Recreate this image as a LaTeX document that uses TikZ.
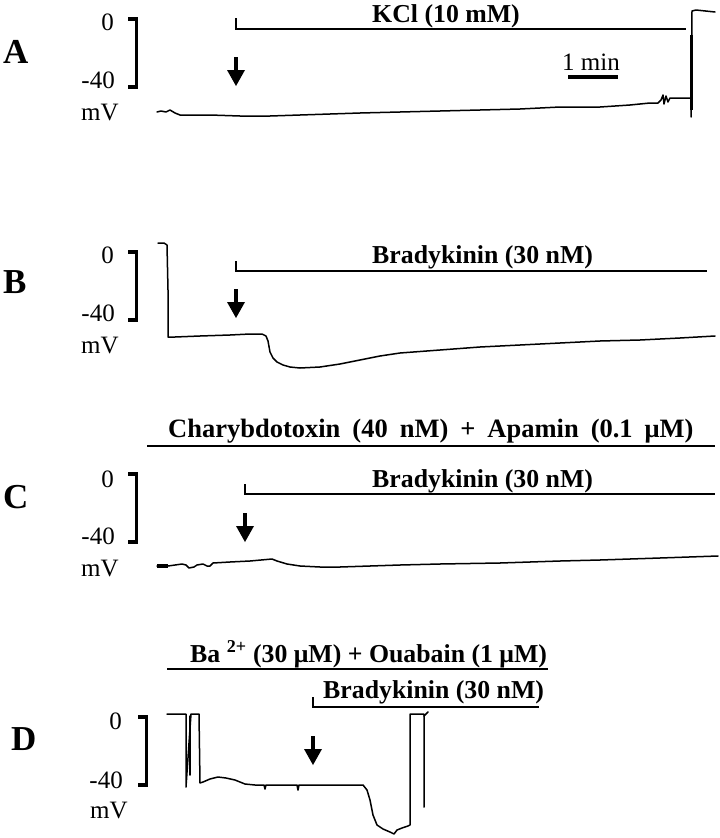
\documentclass[tikz,border=0pt]{standalone}
\usepackage{fontspec}
\setmainfont{Liberation Serif}
\newcommand{\stimarrow}[2]{%
  \draw[line width=3.2pt] (#1,#2-29) -- (#1,#2-12);
  \fill (#1-9,#2-16) -- (#1+9,#2-16) -- (#1,#2) -- cycle;}
\begin{document}
\begin{tikzpicture}[x=1pt,y=-1pt,
  trace/.style={line width=1.5pt, line join=round, line cap=round},
  bar/.style={line width=2.6pt},
  brk/.style={line width=3.8pt, line join=miter},
  lbl/.style={font=\bfseries\fontsize{25.8}{28}\selectfont, inner sep=0pt, anchor=base west},
  num/.style={font=\fontsize{25}{27}\selectfont, inner sep=0pt},
  panel/.style={font=\bfseries\fontsize{35}{38}\selectfont, inner sep=0pt, anchor=base west}]
\useasboundingbox (0,0) rectangle (720,838);

% ---------------- Panel A ----------------
\node[panel] (pA) at (3,63) {A};
\node[num, anchor=base east] (a0) at (114,30) {0};
\node[num, anchor=base east] (a40) at (115,88) {-40};
\node[num, anchor=base west] (amv) at (81,120) {mV};
\draw[brk] (128,19) -- (136.5,19) -- (136.5,87) -- (128,87);
\draw[bar] (236,18) -- (236,29) -- (686,29);
\node[lbl] (kcl) at (372,22) {KCl (10 mM)};
\stimarrow{236}{86}
\node[num, anchor=base] (onemin) at (591,70) {1 min};
\draw[line width=3.8pt] (568,77) -- (618,77);
\draw[trace] (157,112) -- (161,111) -- (166,112) -- (170,110) -- (175,113) -- (180,115) -- (190,115)
  -- (210,115) -- (240,116) -- (270,116) -- (300,115) -- (330,114) -- (360,113) -- (400,112)
  -- (440,111) -- (480,110) -- (520,109) -- (560,107) -- (600,107) -- (630,105) -- (650,103)
  -- (658,103) -- (661,100) -- (663,95) -- (664,104) -- (666,96) -- (668,102) -- (670,98)
  -- (680,98) -- (691,98) -- (691,117) -- (692,11) -- (696,10) -- (715,12);
\draw[line width=2.6pt] (691.5,35) -- (691.5,110);

% ---------------- Panel B ----------------
\node[panel] (pB) at (3,293) {B};
\node[num, anchor=base east] (b0) at (114,263) {0};
\node[num, anchor=base east] (b40) at (115,321) {-40};
\node[num, anchor=base west] (bmv) at (81,353) {mV};
\draw[brk] (128,252) -- (136.5,252) -- (136.5,320) -- (128,320);
\draw[bar] (236,261) -- (236,271) -- (707,271);
\node[lbl] (brB) at (372,263) {Bradykinin (30 nM)};
\stimarrow{236}{318}
\draw[trace] (158,243) -- (164,243) -- (167,245) -- (168,290) -- (168,337) -- (175,337)
  -- (200,336) -- (230,335) -- (250,334) -- (262,334) -- (266,336) -- (268,341) -- (270,352)
  -- (273,358) -- (277,362) -- (283,365) -- (290,367) -- (300,368) -- (320,367) -- (340,364)
  -- (360,360) -- (380,356) -- (400,353) -- (440,350) -- (480,347) -- (520,345) -- (560,343)
  -- (600,341) -- (640,340) -- (680,338) -- (715,336);

% ---------------- Panel C ----------------
\node[panel] (pC) at (3,508) {C};
\node[num, anchor=base east] (c0) at (114,487) {0};
\node[num, anchor=base east] (c40) at (115,544) {-40};
\node[num, anchor=base west] (cmv) at (81,576) {mV};
\draw[brk] (128,474) -- (136.5,474) -- (136.5,542) -- (128,542);
\draw[bar] (147,446) -- (715,446);
\node[lbl, font=\bfseries\fontsize{26.5}{28}\selectfont] (chtx) at (168,437)
  {\spaceskip=12pt\relax Charybdotoxin (40 nM) + Apamin (0.1 μM)};
\draw[bar] (245,484) -- (245,494) -- (715,494);
\node[lbl] (brC) at (372,487) {Bradykinin (30 nM)};
\stimarrow{245}{542}
\draw[line width=4.5pt] (157,566) -- (168,566);
\draw[trace] (157,566) -- (163,567) -- (168,566) -- (175,565) -- (182,564) -- (186,565)
  -- (189,568) -- (194,567) -- (197,565) -- (203,564) -- (207,566) -- (210,566) -- (213,563)
  -- (230,562) -- (250,561) -- (272,559) -- (277,561) -- (287,564) -- (300,566) -- (320,567)
  -- (340,567) -- (370,566) -- (400,565) -- (440,564) -- (500,563) -- (560,561) -- (600,560)
  -- (660,558) -- (718,556);

% ---------------- Panel D ----------------
\node[panel] (pD) at (11,750) {D};
\node[num, anchor=base east] (d0) at (122,729) {0};
\node[num, anchor=base east] (d40) at (123,788) {-40};
\node[num, anchor=base west] (dmv) at (90,818) {mV};
\draw[brk] (138,717) -- (146.5,717) -- (146.5,785) -- (138,785);
\draw[bar] (167,669) -- (548,669);
\node[lbl] (baou) at (190,662) {Ba \textsuperscript{2+} (30 μM) + Ouabain (1 μM)};
\draw[bar] (313,697) -- (313,707) -- (539,707);
\node[lbl] (brD) at (323,698) {Bradykinin (30 nM)};
\stimarrow{313}{765}
\draw[trace] (167,714) -- (186,714) -- (186,787) -- (191,714) -- (199,714) -- (200,783)
  -- (203,782) -- (210,779) -- (218,777) -- (226,778) -- (235,780) -- (245,784) -- (255,785)
  -- (264,785) -- (265,789) -- (266,785) -- (297,785) -- (298,790) -- (299,785) -- (330,785)
  -- (363,785) -- (367,790) -- (370,800) -- (373,815) -- (377,825) -- (383,829) -- (390,832)
  -- (394,834) -- (397,830) -- (402,828) -- (408,826) -- (410,825) -- (410,714) -- (424,714)
  -- (424,807);
\draw[trace] (190,716) -- (190,775);
\draw[trace] (424,716) -- (428,712);
\end{tikzpicture}
\end{document}
